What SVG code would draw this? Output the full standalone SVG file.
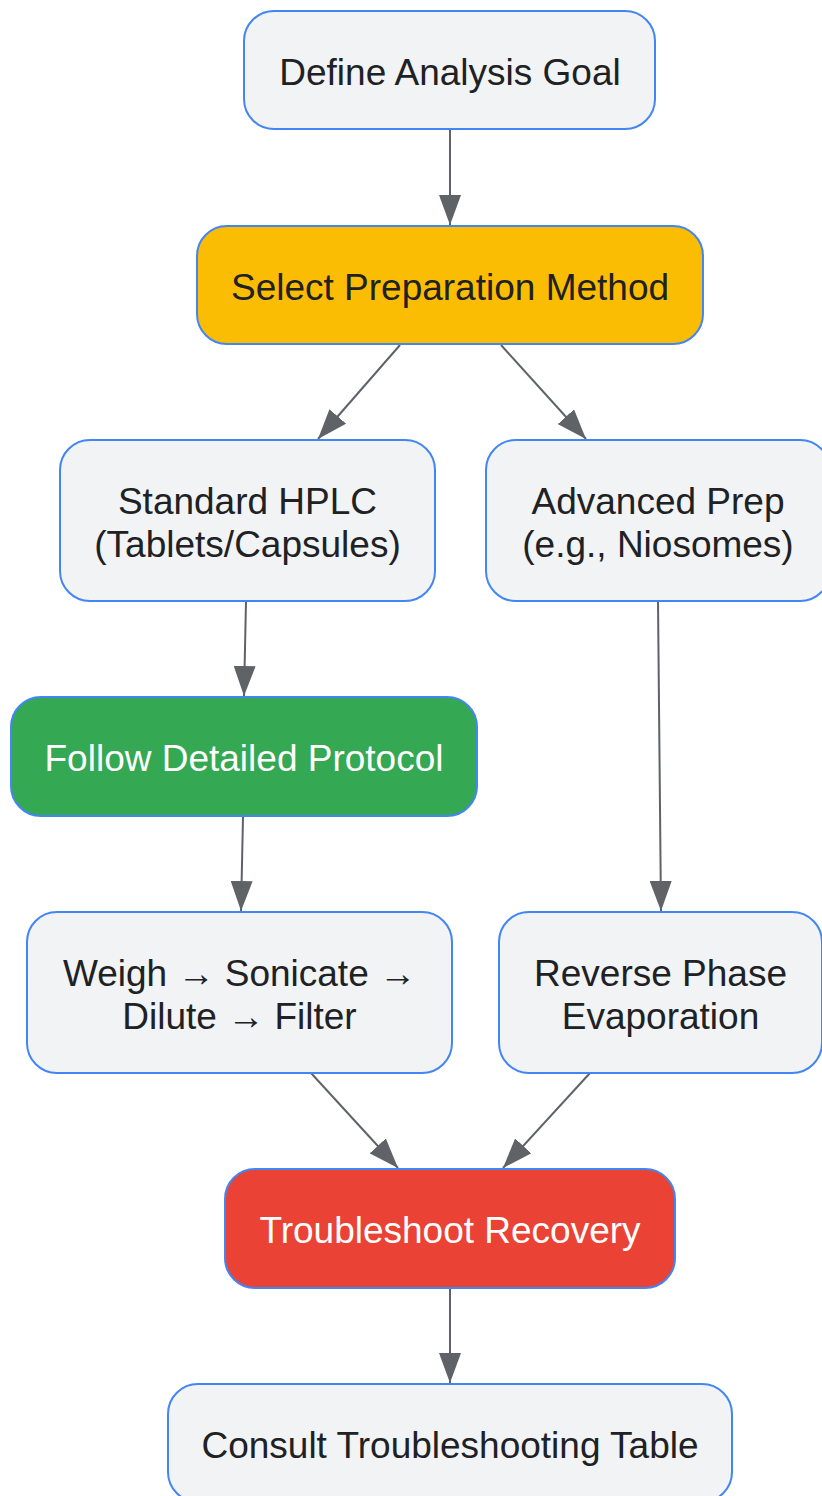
<svg xmlns="http://www.w3.org/2000/svg" width="822" height="1496" viewBox="0 0 822 1496">
<style>
  .n rect { stroke: #4285F4; stroke-width: 2; }
  .g rect { fill: #F1F3F4; }
  .t { font-family: "Liberation Sans", Arial, sans-serif; font-size: 37px; text-anchor: middle; fill: #202124; }
  .w { fill: #FFFFFF; }
  .e line { stroke: #5F6368; stroke-width: 2; fill: none; marker-end: url(#ah); }
</style>
<defs>
  <marker id="ah" markerUnits="userSpaceOnUse" markerWidth="30" markerHeight="22" refX="30" refY="11" orient="auto">
    <path d="M0,0 L30,11 L0,22 z" fill="#5F6368"/>
  </marker>
</defs>
<rect width="822" height="1496" fill="#FFFFFF"/>
<g id="connectors" class="e">
  <line x1="450" y1="129" x2="450" y2="225"/>
  <line x1="400" y1="345" x2="318" y2="439"/>
  <line x1="501" y1="345" x2="586" y2="439"/>
  <line x1="246" y1="601" x2="244" y2="696"/>
  <line x1="658" y1="601" x2="661" y2="911"/>
  <line x1="243" y1="817" x2="241" y2="911"/>
  <line x1="311" y1="1073" x2="398" y2="1168"/>
  <line x1="590" y1="1073" x2="503" y2="1168"/>
  <line x1="450" y1="1288" x2="450" y2="1383"/>
</g>
<g id="n1" class="n g">
  <rect x="244" y="11" width="411" height="118" rx="30"/>
  <text class="t" x="450" y="85">Define Analysis Goal</text>
</g>
<g id="n2" class="n">
  <rect x="197" y="226" width="506" height="118" rx="30" fill="#FBBC04"/>
  <text class="t" x="450" y="300">Select Preparation Method</text>
</g>
<g id="n3" class="n g">
  <rect x="60" y="440" width="375" height="161" rx="30"/>
  <text class="t" x="247.5" y="514">Standard HPLC</text>
  <text class="t" x="247.5" y="557">(Tablets/Capsules)</text>
</g>
<g id="n4" class="n g">
  <rect x="486" y="440" width="344" height="161" rx="30"/>
  <text class="t" x="658" y="514">Advanced Prep</text>
  <text class="t" x="658" y="557">(e.g., Niosomes)</text>
</g>
<g id="n5" class="n">
  <rect x="11" y="697" width="466" height="119" rx="30" fill="#34A853"/>
  <text class="t w" x="244" y="771">Follow Detailed Protocol</text>
</g>
<g id="n6" class="n g">
  <rect x="27" y="912" width="425" height="161" rx="30"/>
  <text class="t" x="239.5" y="986">Weigh → Sonicate →</text>
  <text class="t" x="239.5" y="1029">Dilute → Filter</text>
</g>
<g id="n7" class="n g">
  <rect x="499" y="912" width="323" height="161" rx="30"/>
  <text class="t" x="660.5" y="986">Reverse Phase</text>
  <text class="t" x="660.5" y="1029">Evaporation</text>
</g>
<g id="n8" class="n">
  <rect x="225" y="1169" width="450" height="119" rx="30" fill="#EA4335"/>
  <text class="t w" x="450" y="1243">Troubleshoot Recovery</text>
</g>
<g id="n9" class="n g">
  <rect x="168" y="1384" width="564" height="118" rx="30"/>
  <text class="t" x="450" y="1458">Consult Troubleshooting Table</text>
</g>
</svg>
